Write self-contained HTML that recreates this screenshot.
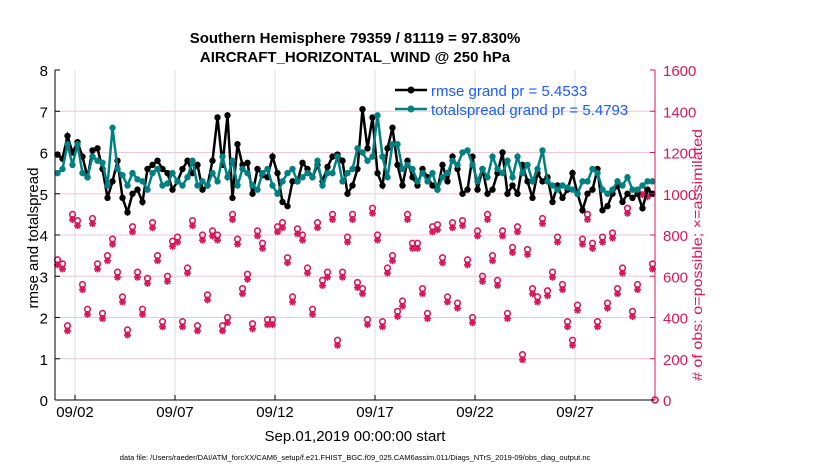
<!DOCTYPE html>
<html><head><meta charset="utf-8"><style>
body{margin:0;background:#fff;font-family:"Liberation Sans",Arial,sans-serif}
svg text{font-family:"Liberation Sans",Arial,sans-serif}
</style></head><body>
<svg id="c" width="830" height="470" xmlns="http://www.w3.org/2000/svg">
<rect width="830" height="470" fill="#fff"/>
<text x="355" y="43" font-size="15" font-weight="bold" text-anchor="middle">Southern Hemisphere 79359 / 81119 = 97.830%</text>
<text x="355" y="62" font-size="15" font-weight="bold" text-anchor="middle">AIRCRAFT_HORIZONTAL_WIND @ 250 hPa</text>
<g id="grid"></g><g id="marks"></g><g id="axes"></g>
<text x="355" y="441" font-size="15" text-anchor="middle">Sep.01,2019 00:00:00 start</text>
<text transform="translate(38,238) rotate(-90)" font-size="15" text-anchor="middle">rmse and totalspread</text>
<text transform="translate(702,255) rotate(-90)" font-size="14" fill="#d6185c" text-anchor="middle" textLength="252" lengthAdjust="spacingAndGlyphs"># of obs: o=possible; ×=assimilated</text>
<text x="355" y="460" font-size="7.5" text-anchor="middle">data file: /Users/raeder/DAI/ATM_forcXX/CAM6_setup/f.e21.FHIST_BGC.f09_025.CAM6assim.011/Diags_NTrS_2019-09/obs_diag_output.nc</text>
<g>
<line x1="395" y1="90" x2="427" y2="90" stroke="#000" stroke-width="2.5"/><circle cx="411" cy="90" r="3.5" fill="#000"/>
<text x="431" y="96" font-size="15" fill="#1a5cff">rmse grand pr = 5.4533</text>
<line x1="395" y1="109" x2="427" y2="109" stroke="#008080" stroke-width="2.5"/><circle cx="411" cy="109" r="3.5" fill="#008080"/>
<text x="431" y="115" font-size="15" fill="#1a5cff">totalspread grand pr = 5.4793</text>
</g>
</svg>
<script>
const rmse=[5.95,5.85,6.4,6.0,6.25,5.9,5.4,6.05,6.1,5.6,4.9,5.3,5.8,4.9,4.55,5.0,5.1,4.8,5.6,5.7,5.8,5.6,5.5,5.1,5.3,5.6,5.8,5.5,5.7,5.1,5.2,5.8,6.85,5.7,6.9,4.9,6.2,5.7,5.75,5.0,5.6,5.45,5.4,5.9,5.5,4.8,4.7,5.3,5.3,5.75,5.6,5.4,5.7,5.3,5.65,5.9,5.95,5.8,5.0,5.2,5.6,7.05,6.1,6.85,5.5,5.2,6.1,6.6,5.7,5.2,5.8,5.4,5.2,5.6,5.4,5.2,5.1,5.7,5.3,5.9,5.6,5.0,5.1,5.9,5.1,5.6,5.0,5.1,5.5,6.0,5.0,5.2,5.0,5.7,5.3,4.9,5.5,5.3,5.4,4.8,5.2,4.9,5.1,5.5,5.0,4.6,5.0,5.1,5.6,4.6,4.7,5.0,5.2,4.8,5.0,4.9,5.0,4.65,5.1,5.0];
const spread=[5.5,5.6,6.2,5.7,6.2,5.5,5.4,5.9,5.8,5.75,5.2,6.6,5.6,5.45,5.2,5.5,5.35,5.3,5.1,5.5,5.6,5.2,5.25,5.5,5.3,5.2,5.4,5.8,5.2,5.3,5.2,5.5,5.3,5.9,5.4,5.8,5.2,5.6,5.5,5.2,5.1,5.5,5.6,5.2,5.0,5.3,5.5,5.6,5.3,5.4,5.5,5.4,5.8,5.2,5.5,5.5,5.9,5.3,5.5,5.6,6.1,6.0,5.8,5.9,6.9,5.9,5.4,6.2,6.2,5.6,5.7,5.6,5.3,5.5,5.3,5.5,5.1,5.4,5.5,5.8,5.7,6.0,6.05,5.7,5.3,5.6,5.4,5.9,5.6,5.5,5.8,5.4,5.9,5.5,5.7,5.3,5.6,6.05,5.3,5.2,5.1,5.2,5.15,5.1,5.0,5.3,5.3,5.6,5.5,5.1,5.0,5.1,5.3,5.2,5.4,5.1,5.1,5.2,5.3,5.3];
const obsPossible=[680,660,360,900,870,560,440,880,660,420,700,780,620,500,340,840,620,440,590,860,700,380,600,770,790,380,640,870,360,800,510,820,800,360,400,900,780,540,610,370,820,760,390,390,840,860,690,500,830,800,640,440,860,580,620,900,290,620,790,900,570,540,390,930,800,380,640,700,430,480,900,760,760,540,420,840,850,690,500,860,470,870,680,400,820,600,900,700,580,820,420,740,840,220,730,540,500,880,530,620,790,560,380,290,460,780,900,760,380,790,470,810,540,640,930,430,560,1020,1010,660];
const obsAssim=obsPossible.map(v=>v-25);
const leftTicks=[0,1,2,3,4,5,6,7,8];
const rightTicks=[0,200,400,600,800,1000,1200,1400,1600];
const dateTicks=[1,6,11,16,21,26];
const dateLabels=["09/02","09/07","09/12","09/17","09/22","09/27"];
const X0=55,X1=655,Y0=400,Y1=70;
const xs=d=>X0+(d/30)*(X1-X0);
const yl=v=>Y0-(v/8)*(Y0-Y1);
const yr=v=>Y0-(v/1600)*(Y0-Y1);
const NS="http://www.w3.org/2000/svg";
function mk(t,a,p){const e=document.createElementNS(NS,t);for(const k in a)e.setAttribute(k,a[k]);p.appendChild(e);return e;}
const grid=document.getElementById('grid'),marks=document.getElementById('marks'),axes=document.getElementById('axes');
leftTicks.forEach(v=>{if(v>0&&v<8){const l=mk('line',{x1:X0,x2:X1,y1:yl(v),y2:yl(v),stroke:'#f2c6d6','stroke-width':1},grid);

}
const t=mk('text',{x:X0-7,y:yl(v)+6,'font-size':15,'text-anchor':'end'},axes);t.textContent=v;


mk('line',{x1:X0,x2:X0+5,y1:yl(v),y2:yl(v),stroke:'#000'},axes);});
rightTicks.forEach(v=>{const t=mk('text',{x:X1+8,y:yr(v)+6,'font-size':15,fill:'#d6185c'},axes);t.textContent=v;


mk('line',{x1:X1-5,x2:X1,y1:yr(v),y2:yr(v),stroke:'#d6185c'},axes);});
dateTicks.forEach((d,i)=>{const l=mk('line',{x1:xs(d),x2:xs(d),y1:Y1,y2:Y0,stroke:'#ddd'},grid);


mk('line',{x1:xs(d),x2:xs(d),y1:Y0,y2:Y0-5,stroke:'#000'},axes);
const t=mk('text',{x:xs(d),y:Y0+17,'font-size':15,'text-anchor':'middle'},axes);t.textContent=dateLabels[i];

});
mk('line',{x1:X0,x2:X1,y1:Y0,y2:Y0,stroke:'#000'},axes);
mk('line',{x1:X0,x2:X0,y1:Y1,y2:Y0,stroke:'#000'},axes);
mk('line',{x1:X1,x2:X1,y1:Y1,y2:Y0,stroke:'#d6185c'},axes);
const td=i=>i*0.25+0.125;
obsPossible.forEach((v,i)=>{const c=mk('circle',{cx:xs(td(i)),cy:yr(v),r:2.8,fill:'none',stroke:'#d6185c','stroke-width':1.6},marks);

});
obsAssim.forEach((v,i)=>{const x=xs(td(i)),y=yr(v);const g=mk('path',{d:`M${x-3.5} ${y}H${x+3.5}M${x} ${y-3.5}V${y+3.5}M${x-2.5} ${y-2.5}L${x+2.5} ${y+2.5}M${x-2.5} ${y+2.5}L${x+2.5} ${y-2.5}`,stroke:'#d6185c','stroke-width':1.6},marks);

});
const z=mk('circle',{cx:xs(30),cy:yr(0),r:3,fill:'none',stroke:'#d6185c','stroke-width':1.6},marks);


function series(arr,col,name){const p=mk('polyline',{points:arr.map((v,i)=>xs(td(i))+','+yl(v)).join(' '),fill:'none',stroke:col,'stroke-width':2.5},marks);


arr.forEach((v,i)=>{const c=mk('circle',{cx:xs(td(i)),cy:yl(v),r:3.2,fill:col},marks);

});}
series(rmse,'#000','rmse');
series(spread,'#008080','totalspread');
</script>
</body></html>
